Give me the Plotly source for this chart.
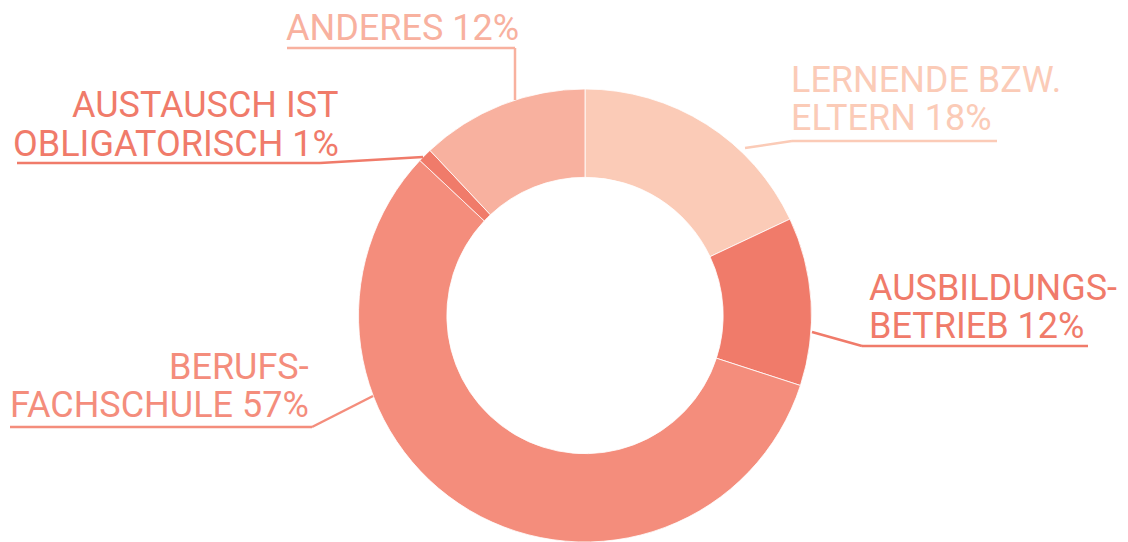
import plotly.graph_objects as go

W, H = 1128, 542

# data
categories = ["LERNENDE BZW. ELTERN", "AUSBILDUNGSBETRIEB", "BERUFSFACHSCHULE",
              "AUSTAUSCH IST OBLIGATORISCH", "ANDERES"]
shares = [18, 12, 57, 1, 12]
label_lines = [
    ["LERNENDE BZW.", "ELTERN 18%"],
    ["AUSBILDUNGS-", "BETRIEB 12%"],
    ["BERUFS-", "FACHSCHULE 57%"],
    ["AUSTAUSCH IST", "OBLIGATORISCH 1%"],
    ["ANDERES 12%"],
]
colors = ["#FBCBB7", "#F07B6A", "#F48D7C", "#F07B6A", "#F8B19F"]

# label placement in pixels: text anchor x, side, baseline of last line,
# underline start/end, leader path points
label_pos = [
    dict(x=789, anchor="left", base=131, ul=(792, 997), leader=[(792, 141), (745, 148)]),
    dict(x=867, anchor="left", base=338, ul=(862, 1088), leader=[(862, 346), (812, 332)]),
    dict(x=311, anchor="right", base=417, ul=(10, 312), leader=[(312, 427), (373, 396)]),
    dict(x=341, anchor="right", base=156, ul=(17, 320), leader=[(320, 163), (423, 157)]),
    dict(x=284, anchor="left", base=40, ul=(287, 515), leader=[(515, 48), (515, 100)]),
]

FONT = "Roboto"
FS = 36
PITCH = 38


def px(x):
    return x / W


def py(y):
    return 1 - y / H


fig = go.Figure(go.Pie(
    labels=categories,
    values=shares,
    sort=False,
    direction="clockwise",
    rotation=0,
    hole=0.61,
    marker=dict(colors=colors, line=dict(color="white", width=0.8)),
    textinfo="none",
    hoverinfo="label+percent",
    domain=dict(x=[px(585 - 227), px(585 + 227)], y=[0, py(316 - 227)]),
))

annotations = []
shapes = []
for lines, pos, col in zip(label_lines, label_pos, colors):
    n = len(lines)
    for i, txt in enumerate(lines):
        base = pos["base"] - (n - 1 - i) * PITCH
        annotations.append(dict(
            text=txt, x=px(pos["x"]), y=py(base - 12.5), xref="paper", yref="paper",
            xanchor=pos["anchor"], yanchor="middle", showarrow=False,
            font=dict(family=FONT, size=FS, color=col),
        ))
    y_ul = pos["leader"][0][1]
    x0, x1 = pos["ul"]
    path = "M{},{} L{},{}".format(px(x0), py(y_ul), px(x1), py(y_ul))
    shapes.append(dict(type="path", path=path, xref="paper", yref="paper",
                       line=dict(color=col, width=2.5)))
    (lx0, ly0), (lx1, ly1) = pos["leader"]
    path = "M{},{} L{},{}".format(px(lx0), py(ly0), px(lx1), py(ly1))
    shapes.append(dict(type="path", path=path, xref="paper", yref="paper",
                       line=dict(color=col, width=2.5)))

fig.update_layout(
    width=W, height=H,
    margin=dict(l=0, r=0, t=0, b=0),
    showlegend=False,
    paper_bgcolor="white",
    plot_bgcolor="white",
    annotations=annotations,
    shapes=shapes,
)

fig.write_html("out.html", config={"displayModeBar": False},
               post_script="document.body.style.margin='0';")
